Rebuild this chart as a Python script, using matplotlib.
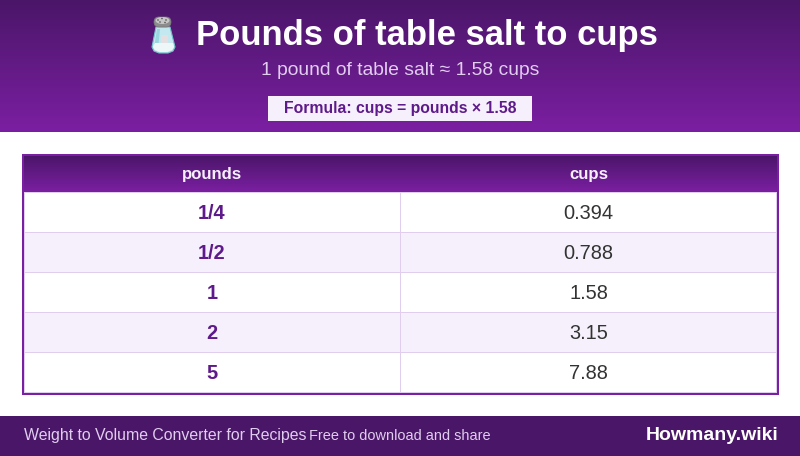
import numpy as np
import matplotlib
matplotlib.use("Agg")
import matplotlib.pyplot as plt
from matplotlib.colors import LinearSegmentedColormap
from matplotlib.patches import Rectangle, Polygon, FancyBboxPatch, Ellipse, Circle

plt.rcParams['font.family'] = ['Liberation Sans', 'DejaVu Sans']

title = "Pounds of table salt to cups"
subtitle = "1 pound of table salt ≈ 1.58 cups"
formula = "Formula: cups = pounds × 1.58"
columns = ["pounds", "cups"]
pounds = ["1/4", "1/2", "1", "2", "5"]
cups = ["0.394", "0.788", "1.58", "3.15", "7.88"]
footer_left = "Weight to Volume Converter for Recipes"
footer_mid = "Free to download and share"
footer_right = "Howmany.wiki"

DARK = "#4a1668"
PURPLE = "#7b1fa2"
TEXT_PURPLE = "#5e1a8a"
LINE = "#e1cdee"
ALT = "#f5f0fb"

def px(size):
    return size * 0.72

def gradient(ax, x0, x1, y0, y1, c0, c1):
    cmap = LinearSegmentedColormap.from_list("g", [c0, c1])
    grad = np.linspace(0, 1, 256).reshape(-1, 1)
    ax.imshow(grad, cmap=cmap, extent=(x0, x1, y1, y0), aspect="auto",
              interpolation="bilinear", zorder=1)

def box(ax, x0, y0, x1, y1, color, z):
    ax.add_patch(Rectangle((x0, y0), x1 - x0, y1 - y0, fc=color, ec="none", lw=0, zorder=z))

# 4.56 alone rounds down to 455 rows
fig = plt.figure(figsize=(8, 4.5601), dpi=100)
ax = fig.add_axes([0, 0, 1, 1])

# header
gradient(ax, 0, 800, 0, 132, DARK, PURPLE)
ax.text(427, 35, title, color="white", fontsize=px(34.7), fontweight="bold",
        ha="center", va="center", zorder=5)
ax.text(400, 70, subtitle, color="#e1cdee", fontsize=px(19.3), ha="center", va="center", zorder=5)
box(ax, 268, 96, 532, 121, ALT, 4)
ax.text(400, 108, formula, color=TEXT_PURPLE, fontsize=px(15.8), fontweight="bold",
        ha="center", va="center", zorder=5)

# salt shaker
ax.add_patch(Polygon([[156, 27], [170, 27], [175, 47], [173, 51], [168, 53], [159, 53], [154, 51], [152, 47]],
                     closed=True, fc="#c4e8ef", ec="#74c0cb", lw=0.8, zorder=4))
ax.add_patch(Polygon([[157, 29], [160, 29], [158, 50], [154, 48]],
                     closed=True, fc="#9ad6e0", ec="none", zorder=5))
ax.add_patch(Polygon([[155, 43], [173, 43], [174, 47], [172, 50], [167, 52], [160, 52], [155, 50], [153, 47]],
                     closed=True, fc="#eef7f8", ec="none", zorder=6))
box(ax, 161, 35, 168, 43, "#e6dfe2", 6)
ax.add_patch(FancyBboxPatch((155, 18), 15, 8, boxstyle="round,pad=1,rounding_size=5",
                            fc="#8c8c8c", ec="#7a7a7a", lw=0.5, zorder=7))
ax.add_patch(Ellipse((162.5, 20.5), 14, 7, fc="#c6c6c6", ec="none", zorder=8))
for hx, hy in [(158, 20), (162, 18.5), (166, 20), (160, 22), (165, 22.5)]:
    ax.add_patch(Circle((hx, hy), 0.8, fc="#555555", ec="none", zorder=9))

# table
tx0, tx1 = 24, 777
mid = 400
head_top, head_bot = 156, 192
row_h = 40
gradient(ax, tx0, tx1, head_top, head_bot, DARK, PURPLE)
col_centers = [212, 588.5]
for cx, label in zip(col_centers, columns):
    ax.text(cx, 174, label, color=ALT, fontsize=px(16.7), fontweight="bold",
            ha="center", va="center", zorder=5)

box(ax, tx0, head_bot, tx1, head_bot + 1, LINE, 3)
for i, (p, c) in enumerate(zip(pounds, cups)):
    top = head_bot + i * row_h
    box(ax, tx0, top, tx1, top + row_h, ALT if i % 2 else "white", 2)
    box(ax, tx0, top + row_h, tx1, top + row_h + 1, LINE, 3)
    ax.text(col_centers[0], top + 21, p, color=TEXT_PURPLE, fontsize=px(20), fontweight="bold",
            ha="center", va="center", zorder=5)
    ax.text(col_centers[1], top + 21, c, color="#333333", fontsize=px(20),
            ha="center", va="center", zorder=5)
box(ax, mid, head_bot, mid + 1, 393, LINE, 3)
box(ax, tx0, head_bot, tx0 + 1, 393, LINE, 3)
box(ax, tx1 - 1, head_bot, tx1, 393, LINE, 3)

# outer border
box(ax, 22, 154, 779, 156, PURPLE, 6)
box(ax, 22, 393, 779, 395, PURPLE, 6)
box(ax, 22, 154, 24, 395, PURPLE, 6)
box(ax, 777, 154, 779, 395, PURPLE, 6)

# footer
box(ax, 0, 416, 800, 456, DARK, 2)
ax.text(24, 435, footer_left, color="#e1cdee", fontsize=px(15.9), ha="left", va="center", zorder=5)
ax.text(309, 435.5, footer_mid, color="#e1cdee", fontsize=px(14.5), ha="left", va="center", zorder=5)
ax.text(778.5, 435.5, footer_right, color="white", fontsize=px(19.5), fontweight="bold",
        ha="right", va="center", zorder=5)

ax.set_xlim(0, 800)
ax.set_ylim(456, 0)
ax.axis("off")
fig.savefig("out.png", dpi=100)
